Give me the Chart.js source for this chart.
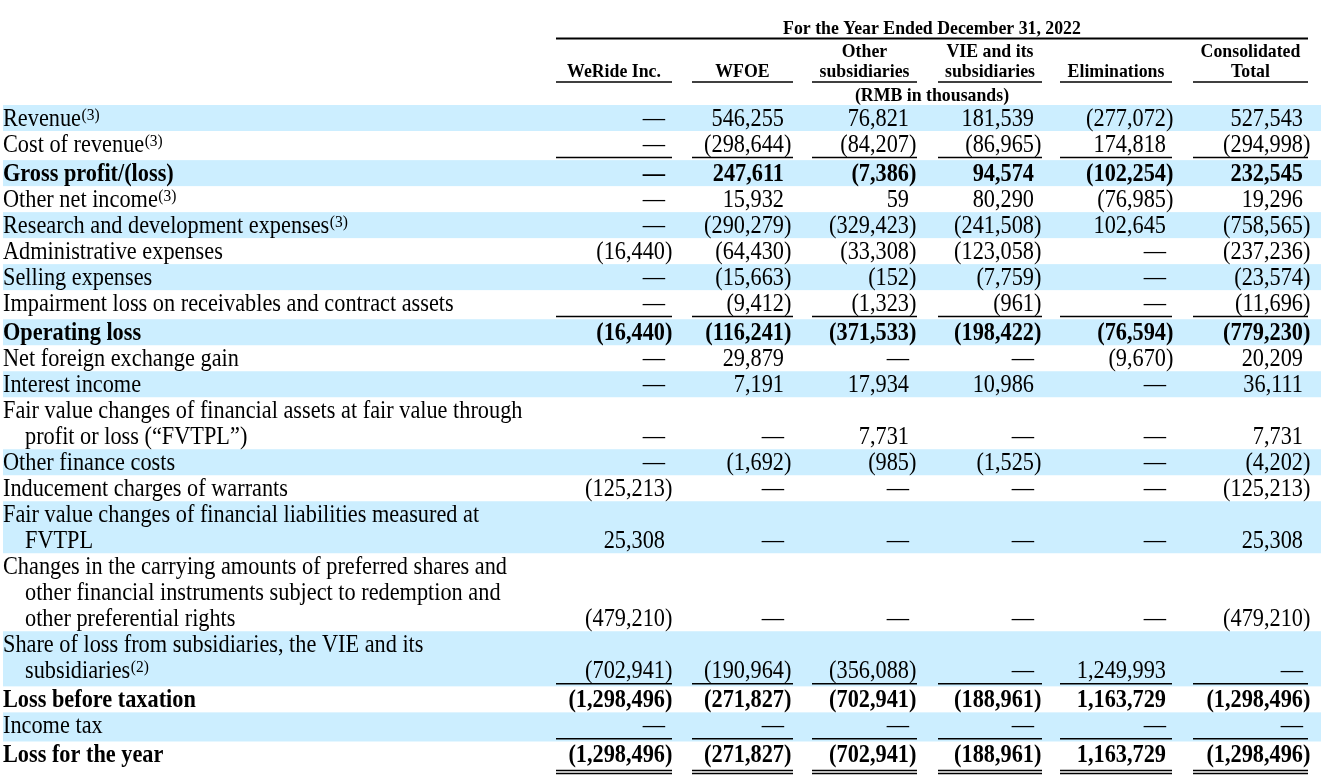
<!DOCTYPE html>
<html>
<head>
<meta charset="utf-8">
<script src="https://cdn.jsdelivr.net/npm/chart.js@4/dist/chart.umd.min.js"></script>
<style>
  html, body { margin: 0; padding: 0; background: #ffffff; }
  #wrap { width: 1321px; height: 781px; position: relative; }
</style>
</head>
<body>
<div id="wrap"><canvas id="c" width="1321" height="781"></canvas></div>
<script>
// ---------------- DATA ----------------
const title = "For the Year Ended December 31, 2022";
const unitNote = "(RMB in thousands)";
const columnHeaders = [
  ["", "WeRide Inc."],
  ["", "WFOE"],
  ["Other", "subsidiaries"],
  ["VIE and its", "subsidiaries"],
  ["", "Eliminations"],
  ["Consolidated", "Total"]
];
const rowLabels = [
  ["Revenue"],
  ["Cost of revenue"],
  ["Gross profit/(loss)"],
  ["Other net income"],
  ["Research and development expenses"],
  ["Administrative expenses"],
  ["Selling expenses"],
  ["Impairment loss on receivables and contract assets"],
  ["Operating loss"],
  ["Net foreign exchange gain"],
  ["Interest income"],
  ["Fair value changes of financial assets at fair value through", "profit or loss (\u201CFVTPL\u201D)"],
  ["Other finance costs"],
  ["Inducement charges of warrants"],
  ["Fair value changes of financial liabilities measured at", "FVTPL"],
  ["Changes in the carrying amounts of preferred shares and", "other financial instruments subject to redemption and", "other preferential rights"],
  ["Share of loss from subsidiaries, the VIE and its", "subsidiaries"],
  ["Loss before taxation"],
  ["Income tax"],
  ["Loss for the year"]
];
const rowNotes = ["3","3",null,"3","3",null,null,null,null,null,null,null,null,null,null,null,"2",null,null,null];
const boldRows = [2, 8, 17, 19];
const underlineRows = [1, 7, 16, 18];
const doubleUnderlineRows = [19];

// null = "—"
const weRide = [null, null, null, null, null, -16440, null, null, -16440, null, null, null, null, -125213, 25308, -479210, -702941, -1298496, null, -1298496];
const wfoe   = [546255, -298644, 247611, 15932, -290279, -64430, -15663, -9412, -116241, 29879, 7191, null, -1692, null, null, null, -190964, -271827, null, -271827];
const otherSubs = [76821, -84207, -7386, 59, -329423, -33308, -152, -1323, -371533, null, 17934, 7731, -985, null, null, null, -356088, -702941, null, -702941];
const vieSubs = [181539, -86965, 94574, 80290, -241508, -123058, -7759, -961, -198422, null, 10986, null, -1525, null, null, null, null, -188961, null, -188961];
const eliminations = [-277072, 174818, -102254, -76985, 102645, null, null, null, -76594, -9670, null, null, null, null, null, null, 1249993, 1163729, null, 1163729];
const consolidated = [527543, -294998, 232545, 19296, -758565, -237236, -23574, -11696, -779230, 20209, 36111, 7731, -4202, -125213, 25308, -479210, null, -1298496, null, -1298496];
const columns = [weRide, wfoe, otherSubs, vieSubs, eliminations, consolidated];

// ---------------- LAYOUT (styling) ----------------
const FONT = "'Liberation Serif', 'Times New Roman', serif";
const BODY_PX = 22.3, BODY_SY = 1.1;
const BAND = "#cceeff";
const colDigitEdge = [665, 784, 909, 1034, 1166, 1303];   // x-scale units
const colRule = [[556, 672], [692, 793], [812, 917], [938, 1042], [1060, 1172], [1193, 1308]];
const labelX = 3, indentX = 25, bandLeft = 3, bandRight = 1321;
const UL_GAP = 0.12; // extra line units after an underlined row

const rowLayout = [];
(function () {
  let cur = 0;
  rowLabels.forEach((lines, i) => {
    const top = cur;
    cur += lines.length;
    const rule = cur;
    if (underlineRows.includes(i)) cur += UL_GAP;
    rowLayout.push({ top, rule, bottom: cur, lines: lines.length });
  });
})();

function fmt(v) {
  if (v === null || v === undefined) return "\u2014";
  const s = Math.abs(v).toLocaleString("en-US");
  return v < 0 ? "(" + s + ")" : s;
}

const datasets = columns.map((vals, c) => ({
  label: columnHeaders[c].join(" ").trim(),
  data: vals.map((v, r) => ({ x: colDigitEdge[c], y: rowLayout[r].top + rowLayout[r].lines - 0.5, v })),
  pointRadius: 0,
  pointHoverRadius: 0,
  showLine: false
}));

function drawText(ctx, str, x, y, align, font, sy) {
  ctx.save();
  ctx.translate(x, y);
  ctx.scale(1, sy);
  ctx.font = font;
  ctx.textAlign = align;
  ctx.textBaseline = "alphabetic";
  ctx.fillText(str, 0, 0);
  ctx.restore();
}

const tablePlugin = {
  id: "tablePlugin",
  beforeDatasetsDraw(chart) {
    const { ctx, scales: { x, y } } = chart;
    ctx.save();
    ctx.fillStyle = BAND;
    rowLayout.forEach((r, i) => {
      if (i % 2 === 0) {
        const y0 = y.getPixelForValue(r.top), y1 = y.getPixelForValue(r.bottom);
        const x0 = x.getPixelForValue(bandLeft), x1 = x.getPixelForValue(bandRight);
        ctx.fillRect(x0, y0, x1 - x0, y1 - y0);
      }
    });
    ctx.restore();
  },
  afterDatasetsDraw(chart) {
    const { ctx, scales: { x, y } } = chart;
    ctx.save();
    ctx.fillStyle = "#000";
    ctx.strokeStyle = "#000";

    // ---- header ----
    const hdrFont = "bold 17.8px " + FONT;
    const left = x.getPixelForValue(colRule[0][0]);
    const right = x.getPixelForValue(colRule[5][1]);
    const mid = (left + right) / 2;
    drawText(ctx, title, mid, y.getPixelForValue(-3) + 6.5, "center", hdrFont, 1.05);
    ctx.lineWidth = 2;
    ctx.beginPath();
    ctx.moveTo(left, y.getPixelForValue(-2.56)); ctx.lineTo(right, y.getPixelForValue(-2.56));
    ctx.stroke();
    ctx.lineWidth = 1.5;
    columnHeaders.forEach((h, c) => {
      const a = x.getPixelForValue(colRule[c][0]), b = x.getPixelForValue(colRule[c][1]);
      const cx = (a + b) / 2;
      if (h[0]) drawText(ctx, h[0], cx, y.getPixelForValue(-2.115) + 6.5, "center", hdrFont, 1.05);
      drawText(ctx, h[1], cx, y.getPixelForValue(-1.31) + 6.5, "center", hdrFont, 1.05);
      const uy = y.getPixelForValue(-0.88);
      ctx.beginPath(); ctx.moveTo(a, uy); ctx.lineTo(b, uy); ctx.stroke();
    });
    drawText(ctx, unitNote, mid, y.getPixelForValue(-0.42) + 6.5, "center", hdrFont, 1.05);

    // ---- row labels ----
    rowLabels.forEach((lines, i) => {
      const bold = boldRows.includes(i);
      const f = (bold ? "bold " : "") + BODY_PX + "px " + FONT;
      lines.forEach((t, k) => {
        const px = x.getPixelForValue(k === 0 ? labelX : indentX);
        const py = y.getPixelForValue(rowLayout[i].top + k + 0.5) + 7.5;
        drawText(ctx, t, px, py, "left", f, BODY_SY);
        if (k === lines.length - 1 && rowNotes[i]) {
          ctx.font = f;
          const w = ctx.measureText(t).width;
          drawText(ctx, "(" + rowNotes[i] + ")", px + w + 0.5, py - 6, "left", "15.5px " + FONT, BODY_SY);
        }
      });
    });

    // ---- cells ----
    chart.data.datasets.forEach((ds, c) => {
      const meta = chart.getDatasetMeta(c);
      meta.data.forEach((pt, r) => {
        const v = ds.data[r].v;
        const f = (boldRows.includes(r) ? "bold " : "") + BODY_PX + "px " + FONT;
        const s = fmt(v);
        const py = pt.y + 7.5;
        if (v !== null && v < 0) {
          drawText(ctx, s.slice(0, -1), pt.x, py, "right", f, BODY_SY);
          drawText(ctx, ")", pt.x, py, "left", f, BODY_SY);
        } else {
          drawText(ctx, s, pt.x, py, "right", f, BODY_SY);
        }
      });
    });

    // ---- rules ----
    ctx.lineWidth = 1.5;
    underlineRows.forEach(i => {
      const uy = y.getPixelForValue(rowLayout[i].rule) + 0.5;
      colRule.forEach(([a, b]) => {
        ctx.beginPath();
        ctx.moveTo(x.getPixelForValue(a), uy); ctx.lineTo(x.getPixelForValue(b), uy);
        ctx.stroke();
      });
    });
    doubleUnderlineRows.forEach(i => {
      const base = y.getPixelForValue(rowLayout[i].bottom);
      [base + 3, base + 6].forEach(uy => {
        colRule.forEach(([a, b]) => {
          ctx.beginPath();
          ctx.moveTo(x.getPixelForValue(a), uy); ctx.lineTo(x.getPixelForValue(b), uy);
          ctx.stroke();
        });
      });
    });
    ctx.restore();
  }
};

const LINE_PX = 26, TOP_PX = 105, H = 781, W = 1321;
new Chart(document.getElementById("c"), {
  type: "scatter",
  data: { datasets },
  options: {
    responsive: false,
    animation: false,
    events: [],
    layout: { padding: 0 },
    plugins: { legend: { display: false }, tooltip: { enabled: false }, title: { display: false } },
    scales: {
      x: { type: "linear", min: 0, max: W, display: false },
      y: { type: "linear", reverse: true, min: -TOP_PX / LINE_PX, max: (H - TOP_PX) / LINE_PX, display: false }
    }
  },
  plugins: [tablePlugin]
});
</script>
</body>
</html>
